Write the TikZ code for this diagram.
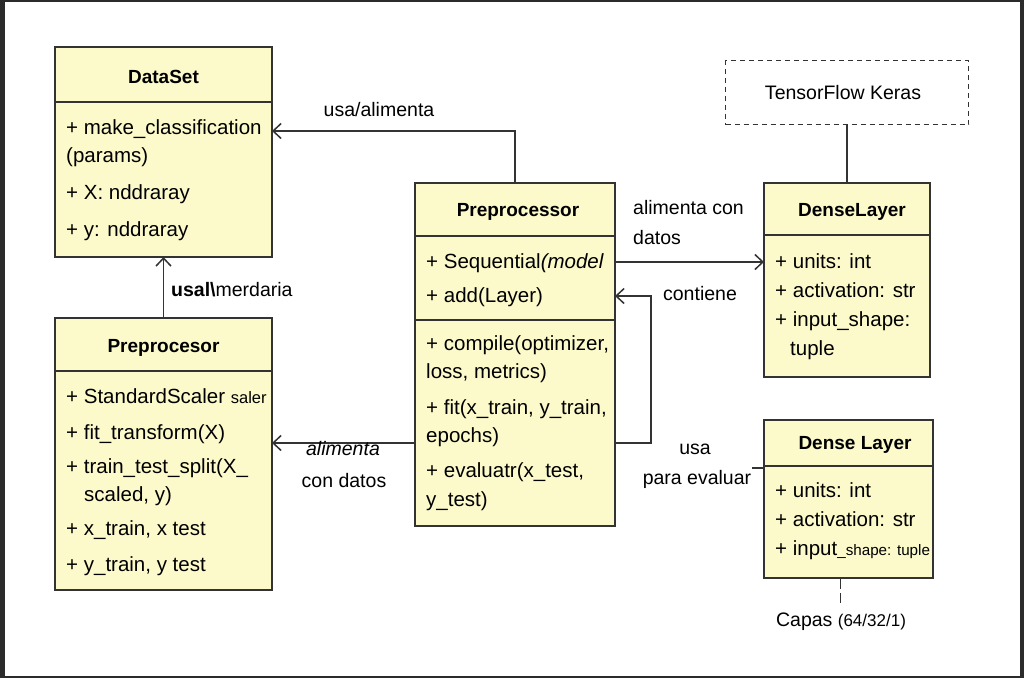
\documentclass[tikz,border=0pt]{standalone}
\usepackage{fontspec}
\setmainfont{Liberation Sans}
\usetikzlibrary{arrows.meta,calc}
\definecolor{boxfill}{HTML}{FCFACA}
\definecolor{edge}{HTML}{333333}
\definecolor{framecol}{HTML}{2B2B2B}
\begin{document}
\begin{tikzpicture}[x=1pt,y=-1pt,
  umlbox/.style={draw=edge,line width=1.4pt,fill=boxfill,inner sep=0pt,outer sep=0pt,anchor=north west},
  divider/.style={draw=edge,line width=1.4pt},
  rowtext/.style={anchor=west,inner sep=0pt,font=\fontsize{20.5}{22}\selectfont,text height=14pt,text depth=4pt},
  titletext/.style={anchor=center,inner sep=0pt,font=\fontsize{19}{22}\selectfont\bfseries},
  lbl/.style={inner sep=0pt,font=\fontsize{19.5}{22}\selectfont,text height=14pt,text depth=4pt},
  conn/.style={draw=edge,line width=1.5pt},
  arr/.style={conn,-{Straight Barb[length=8pt,width=15pt,line width=1.5pt]}}]
\useasboundingbox (0,0) rectangle (1024,678);
\fill[framecol] (0,0) rectangle (1024,678);
\fill[white] (5,2) rectangle (1020,676);

% DataSet
\node[umlbox,minimum width=217pt,minimum height=210pt] (ds) at (55,47) {};
\draw[divider] (ds.west |- 0,102) -- (ds.east |- 0,102);
\node[titletext] (dst) at (163.5,77) {DataSet};
\node[rowtext] (ds1) at (66,129) {+ make\_classification};
\node[rowtext] (ds2) at (66,157) {(params)};
\node[rowtext] (ds3) at (66,194) {+ X: nddraray};
\node[rowtext] (ds4) at (66,231) {+ y: nddraray};

% Preprocesor (left)
\node[umlbox,minimum width=217pt,minimum height=272pt] (pl) at (55,318) {};
\draw[divider] (pl.west |- 0,371) -- (pl.east |- 0,371);
\node[titletext] (plt) at (163.5,348) {Preprocesor};
\node[rowtext] (pl1) at (66,398) {+ StandardScaler {\fontsize{16.5}{17}\selectfont saler}};
\node[rowtext] (pl2) at (66,434) {+ fit\_transform(X)};
\node[rowtext] (pl3) at (66,468) {+ train\_test\_split(X\_};
\node[rowtext] (pl4) at (84,496) {scaled, y)};
\node[rowtext] (pl5) at (66,530) {+ x\_train, x test};
\node[rowtext] (pl6) at (66,566) {+ y\_train, y test};

% Preprocessor (center)
\node[umlbox,minimum width=200pt,minimum height=343pt] (pp) at (415,183) {};
\draw[divider] (pp.west |- 0,236) -- (pp.east |- 0,236);
\draw[divider] (pp.west |- 0,320) -- (pp.east |- 0,320);
\node[titletext] (ppt) at (518,212) {Preprocessor};
\node[rowtext] (pp1) at (426,263) {+ Sequential{\itshape (model}};
\node[rowtext] (pp2) at (426,297) {+ add(Layer)};
\node[rowtext] (pp3) at (426,345) {+ compile(optimizer,};
\node[rowtext] (pp4) at (426,373) {loss, metrics)};
\node[rowtext] (pp5) at (426,409) {+ fit(x\_train, y\_train,};
\node[rowtext] (pp6) at (426,437) {epochs)};
\node[rowtext] (pp7) at (426,472) {+ evaluatr(x\_test,};
\node[rowtext] (pp8) at (426,501) {y\_test)};

% DenseLayer (top)
\node[umlbox,minimum width=166pt,minimum height=194pt] (dl1) at (764,183) {};
\draw[divider] (dl1.west |- 0,235) -- (dl1.east |- 0,235);
\node[titletext] (dl1t) at (852,212) {DenseLayer};
\node[rowtext] (dl11) at (775,263) {+ units: int};
\node[rowtext] (dl12) at (775,292) {+ activation: str};
\node[rowtext] (dl13) at (775,321) {+ input\_shape:};
\node[rowtext] (dl14) at (790,350) {tuple};

% Dense Layer (bottom)
\node[umlbox,minimum width=169pt,minimum height=158pt] (dl2) at (764,420) {};
\draw[divider] (dl2.west |- 0,466) -- (dl2.east |- 0,466);
\node[titletext] (dl2t) at (855,445) {Dense Layer};
\node[rowtext] (dl21) at (775,492) {+ units: int};
\node[rowtext] (dl22) at (775,521) {+ activation: str};
\node[rowtext] (dl23) at (775,550) {+ input{\fontsize{15.2}{16}\selectfont\_shape: tuple}};

% TensorFlow Keras
\node[draw=edge,line width=1pt,dash pattern=on 5pt off 4pt,minimum width=243pt,minimum height=64pt,inner sep=0pt,anchor=north west] (tf) at (725,60) {};
\node[lbl] (tft) at (843,94) {TensorFlow Keras};

% Connectors
\coordinate (c1) at (0,131);
\draw[arr] (pp.north) |- (ds.east |- c1);
\node[lbl] (l1) at (379,111) {usa/alimenta};

\draw[arr] (pl.north) -- (ds.south);
\node[lbl,anchor=west] (l2) at (171,291) {\textbf{usal\textbackslash}merdaria};

\coordinate (c3) at (0,443);
\draw[arr] (pp.west |- c3) -- (pl.east |- c3);
\node[lbl] (l3a) at (343,450) {\itshape alimenta};
\node[lbl] (l3b) at (344,482) {con datos};

\coordinate (c4) at (0,262);
\draw[arr] (pp.east |- c4) -- (dl1.west |- c4);
\node[lbl,anchor=west] (l4a) at (633,209) {alimenta con};
\node[lbl,anchor=west] (l4b) at (633,239) {datos};

\coordinate (ct) at (651,296);
\draw[arr] (pp.east |- c3) -| (ct) -- (pp.east |- ct);
\node[lbl] (l5) at (700,295) {contiene};

\coordinate (ev) at (752,468);
\draw[conn] (ev) -- (dl2.west |- ev);
\node[lbl] (l6a) at (695,449) {usa};
\node[lbl] (l6b) at (697,479) {para evaluar};

\draw[conn] (tf.south) -- (dl1.north);

\coordinate (cap) at (840,603);
\draw[draw=edge,line width=1pt,dash pattern=on 11pt off 4pt] (dl2.south -| cap) -- (cap);
\node[lbl] (l7) at (841,621) {Capas {\fontsize{17}{17}\selectfont (64/32/1)}};
\end{tikzpicture}
\end{document}
